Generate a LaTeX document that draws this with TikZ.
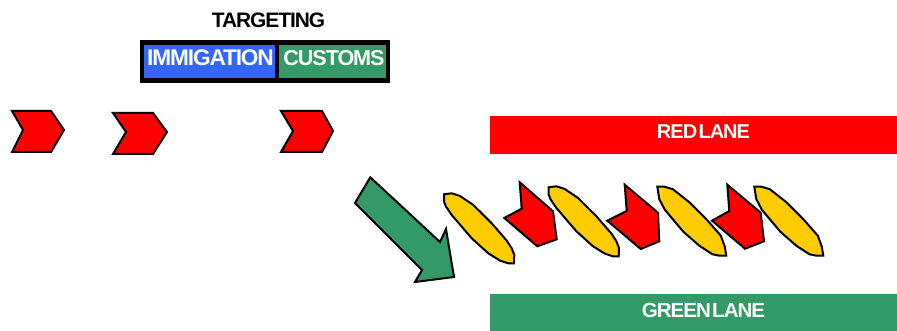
\documentclass[tikz,border=0pt]{standalone}
\usepackage{fontspec}
\setmainfont{Liberation Sans}[LetterSpace=-5,WordSpace=0.3]
\definecolor{lanegreen}{HTML}{339966}
\definecolor{immblue}{HTML}{3366FF}
\definecolor{cargold}{HTML}{FFCC00}
\tikzset{
  redshape/.style={fill=red,draw=black,line width=1.5pt,line join=miter},
  goldshape/.style={fill=cargold,draw=black,line width=1.5pt,line join=miter},
  arrowshape/.style={fill=lanegreen,draw=black,line width=1.5pt,line join=miter},
  label/.style={font=\bfseries\fontsize{15}{15}\selectfont,text=white,inner sep=0pt,anchor=center},
  boxlabel/.style={label,font=\bfseries\fontsize{#1}{15}\selectfont},
  targeting/.pic={
    \draw[goldshape] (0,0)--(7.7,-1)--(16,1.7)--(29.3,10.7)--(47.7,29)--(62.7,46.3)--(67.7,54)--(70.3,60.7)--(70,69)--(64.3,69)--(56,66.3)--(44.3,59)--(27.7,44)--(7.7,20.7)--(2,12.3)--(0,7.3)--cycle;
  },
  wideshape/.pic={
    \draw[goldshape] (0,0)--(7,0)--(15.5,2.5)--(32,15.5)--(49,32.5)--(63.5,49)--(67.5,60)--(69,69)--(62,69)--(55,67.5)--(42,59)--(26,45)--(7.5,23)--(2,12.5)--cycle;
  }
}
\begin{document}
\begin{tikzpicture}[x=0.75pt,y=-0.75pt]
\useasboundingbox (0,0) rectangle (897,331);
% title and target box
\node[font=\bfseries\fontsize{15.7}{15}\selectfont,inner sep=0pt] (title) at (268.5,20) {TARGETING};
\fill[black] (140,40) rectangle (390,83);
\fill[immblue] (144,45) rectangle (275,78);
\fill[lanegreen] (279,45) rectangle (386,78);
\node[boxlabel=17] (imm) at (210.5,58) {IMMIGATION};
\node[boxlabel=16.2] (cus) at (334,58) {CUSTOMS};
% chevrons
\draw[redshape] (12,111)--(51,111)--(64,130)--(51,152)--(12,152)--(23,130)--cycle;
\draw[redshape] (113,113)--(153,113)--(167,132)--(153,154)--(113,154)--(126,132)--cycle;
\draw[redshape] (281,111)--(322,111)--(333,131)--(322,152)--(281,152)--(293,131)--cycle;
% lanes
\fill[red] (490,116) rectangle (897,154);
\fill[lanegreen] (490,294) rectangle (897,331);
\node[label] (red) at (703.5,132) {RED LANE};
\node[label,font=\bfseries\fontsize{15.4}{15}\selectfont] (green) at (703.5,310) {GREEN LANE};
% big arrow
\draw[arrowshape] (370.3,177.3)--(440,242)--(446,229)--(454,277)--(415,282)--(422,270)--(355,203)--cycle;
% gold shapes
\pic at (444,194.3) {targeting};
\pic at (548.7,187.3) {targeting};
\pic at (657.3,186.7) {wideshape};
\pic at (754.3,186.7) {wideshape};
% red pentagons
\draw[redshape] (519.7,182.3)--(553,211.3)--(556.7,239.3)--(537.3,246.3)--(504.3,218)--(521.7,208.7)--cycle;
\draw[redshape] (624.7,184.7)--(658,212.7)--(659.3,241.3)--(640.7,249)--(607.3,220.7)--(626.7,211)--cycle;
\draw[redshape] (727.3,184.7)--(760.7,212.7)--(764,241.3)--(745,248.7)--(712,220.7)--(729.3,211)--cycle;
\end{tikzpicture}
\end{document}
